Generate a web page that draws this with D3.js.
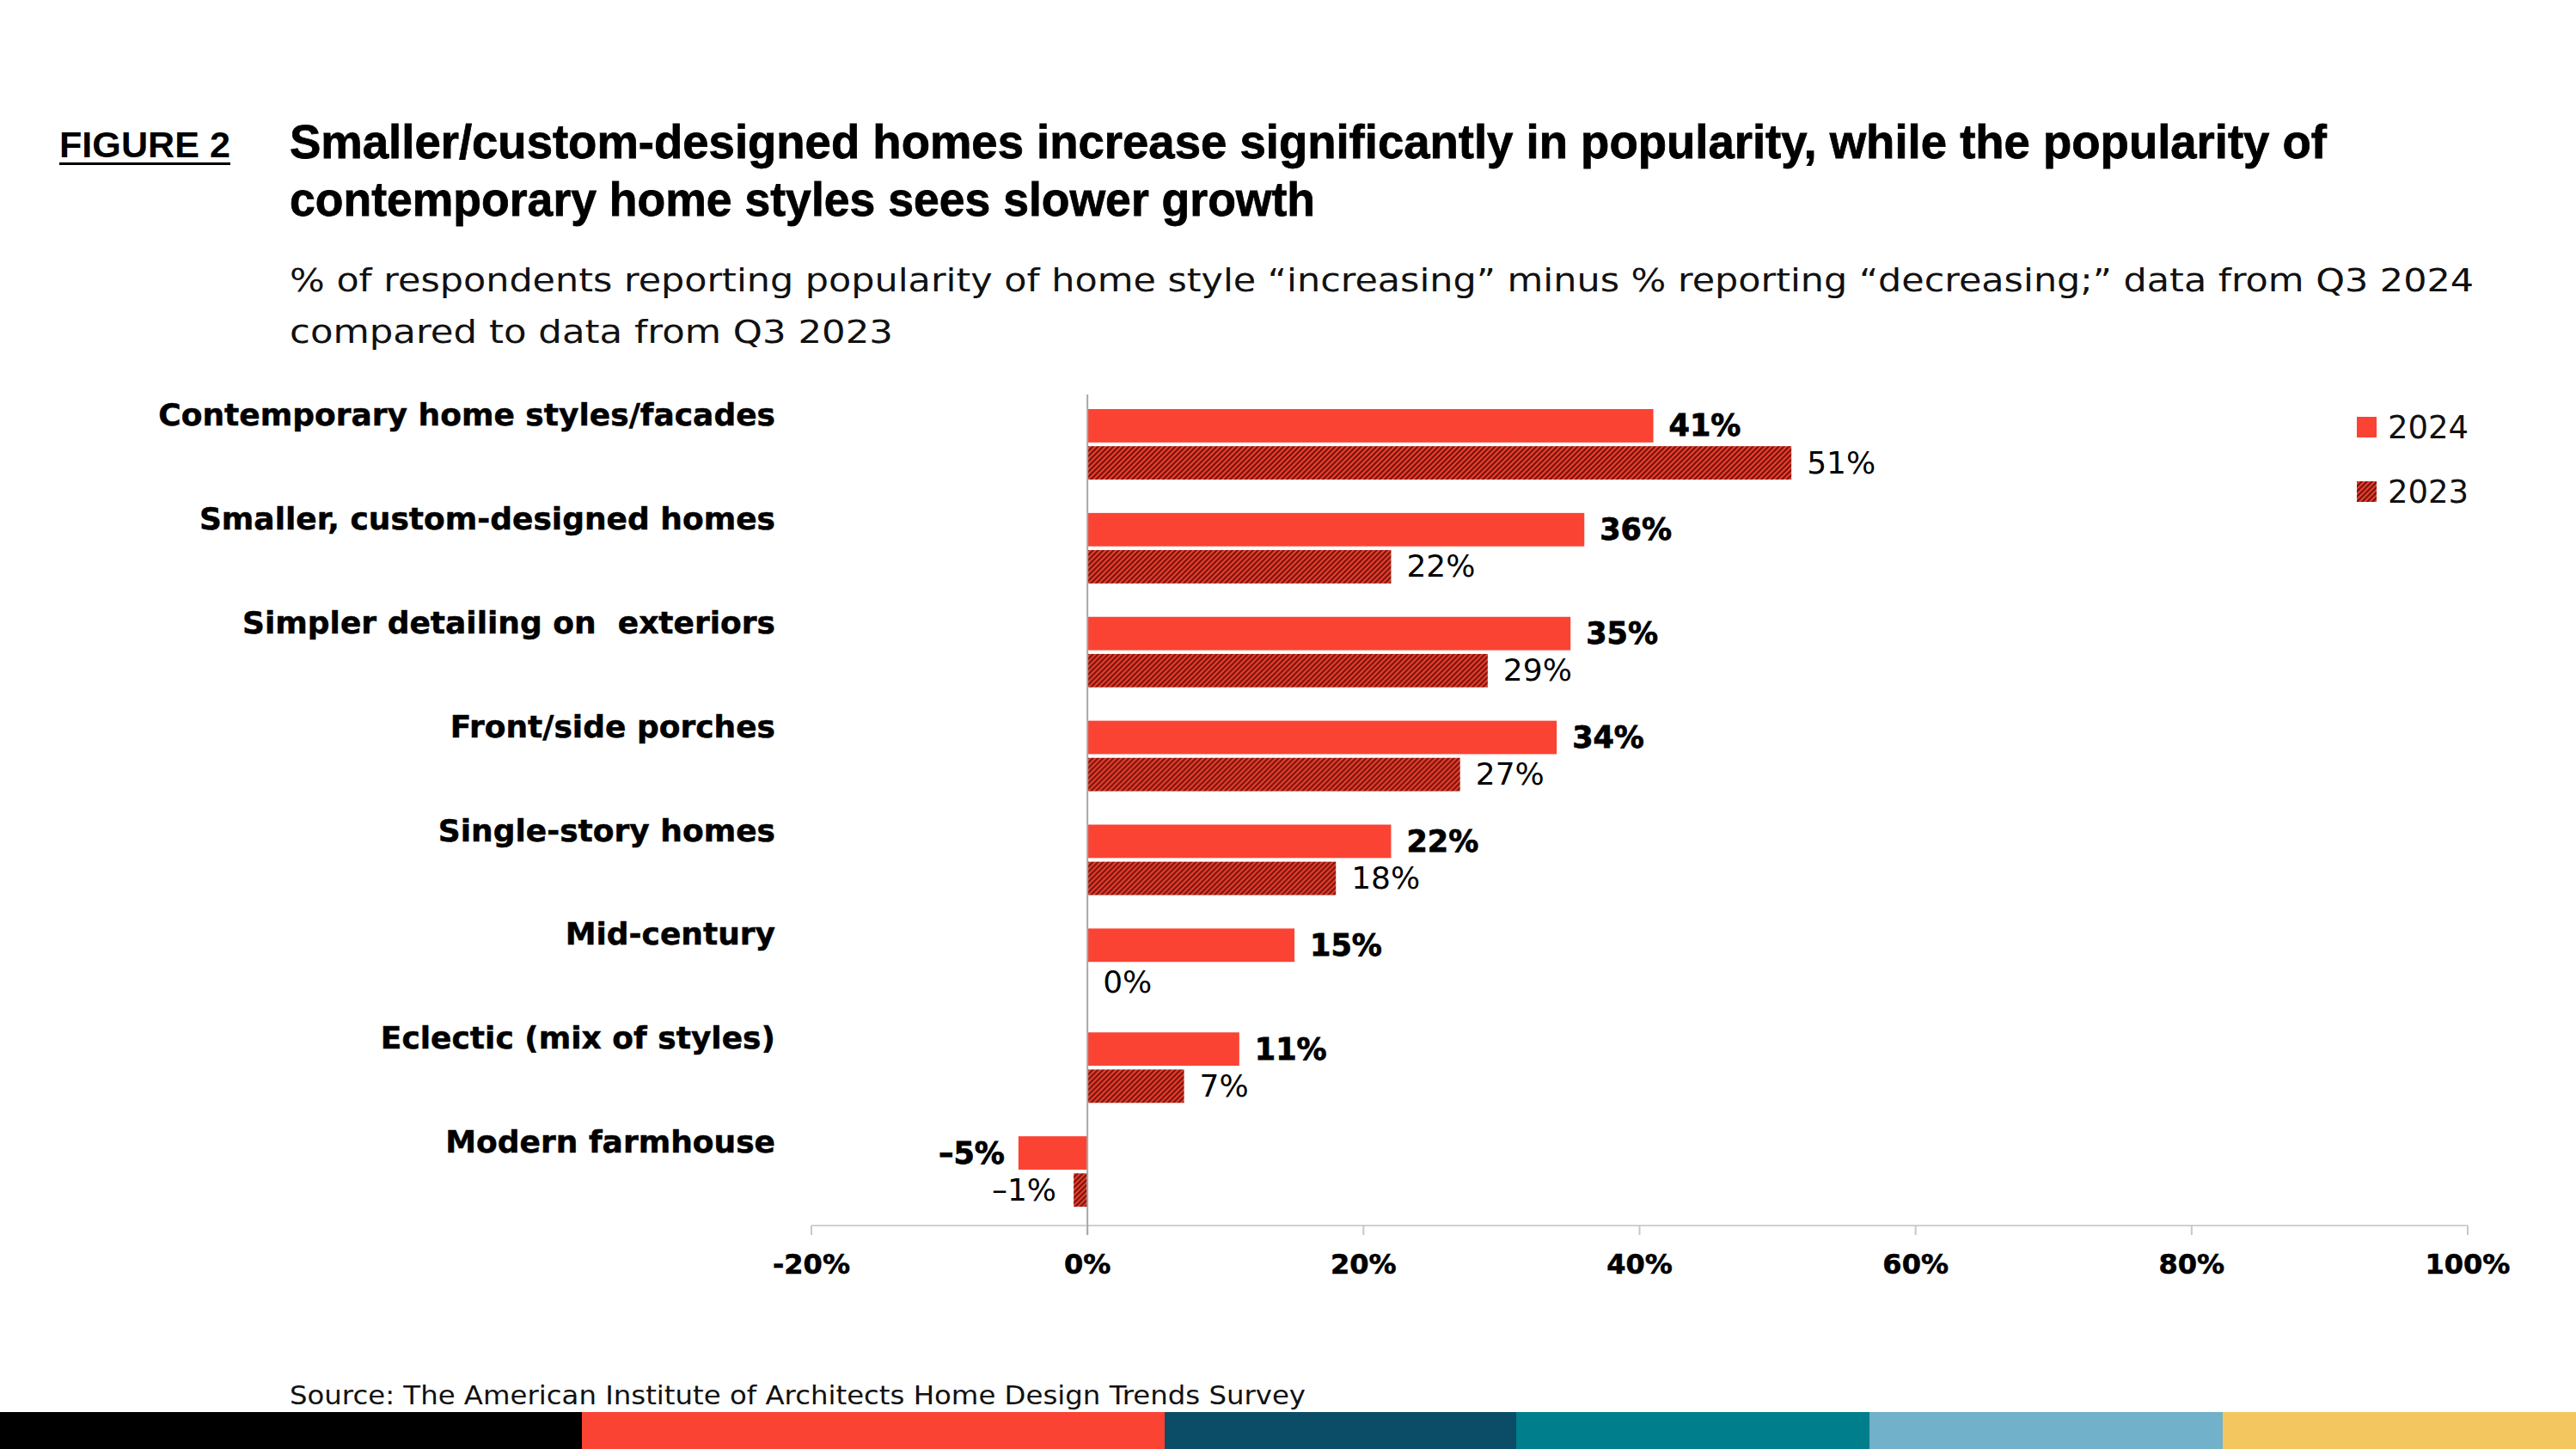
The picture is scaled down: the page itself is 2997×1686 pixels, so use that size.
<!DOCTYPE html>
<html><head><meta charset="utf-8">
<script src="https://cdn.jsdelivr.net/npm/d3@7"></script>
<style>body{margin:0;background:#fff}svg{display:block}</style>
</head><body><svg id="c" width="2997" height="1686"></svg>
<script>
// ---- data ----
const categories = [
  "Contemporary home styles/facades",
  "Smaller, custom-designed homes",
  "Simpler detailing on  exteriors",
  "Front/side porches",
  "Single-story homes",
  "Mid-century",
  "Eclectic (mix of styles)",
  "Modern farmhouse"
];
const values2024 = [41, 36, 35, 34, 22, 15, 11, -5];
const values2023 = [51, 22, 29, 27, 18, 0, 7, -1];
const seriesNames = ["2024", "2023"];
const tickValues = [-20, 0, 20, 40, 60, 80, 100];
const tickLabels = ["-20%", "0%", "20%", "40%", "60%", "80%", "100%"];
const figureLabel = "FIGURE 2";
const titleLines = [
  "Smaller/custom-designed homes increase significantly in popularity, while the popularity of",
  "contemporary home styles sees slower growth"
];
const subtitleLines = [
  "% of respondents reporting popularity of home style \u201cincreasing\u201d minus % reporting \u201cdecreasing;\u201d data from Q3 2024",
  "compared to data from Q3 2023"
];
const sourceText = "Source: The American Institute of Architects Home Design Trends Survey";
const stripColors = ["#000000", "#fb4333", "#0b4c66", "#007e8c", "#71b1c9", "#f4c660"];

// ---- drawing ----
const RED = "#fb4333", DARK = "#7e170e";
const svg = d3.select("#c");
const sans = "'Liberation Sans', Arial, sans-serif";
const dv = "'DejaVu Sans', sans-serif";

const defs = svg.append("defs");
const pat = defs.append("pattern").attr("id", "hatch").attr("patternUnits", "userSpaceOnUse")
  .attr("width", 6).attr("height", 6);
pat.append("rect").attr("width", 6).attr("height", 6).attr("fill", RED);
pat.append("path").attr("d", "M-1.5,1.5 l3,-3 M0,6 l6,-6 M4.5,7.5 l3,-3")
  .attr("stroke", DARK).attr("stroke-width", 2.6);

const x = d3.scaleLinear().domain([-20, 100]).range([944, 2871]);
const y = d3.scaleBand().domain(categories).range([459, 1426]);
const ys = d3.scaleBand().domain(seriesNames).range([17, 99]).paddingInner(0.1);

// header
svg.append("text").attr("x", 69).attr("y", 183).text(figureLabel)
  .attr("font-family", sans).attr("font-weight", 700).attr("font-size", 42)
  .attr("textLength", 199).attr("lengthAdjust", "spacingAndGlyphs");
svg.append("rect").attr("x", 69).attr("y", 189).attr("width", 199).attr("height", 3).attr("fill", "#000");

const titleW = [2370, 1193];
titleLines.forEach((t, i) => {
  svg.append("text").attr("x", 337).attr("y", 184 + i * 67).text(t)
    .attr("font-family", sans).attr("font-weight", 700).attr("font-size", 55)
    .attr("stroke", "#000").attr("stroke-width", 0.8)
    .attr("textLength", titleW[i]).attr("lengthAdjust", "spacingAndGlyphs");
});
const subW = [2541, 702];
subtitleLines.forEach((t, i) => {
  svg.append("text").attr("x", 337).attr("y", 339 + i * 60).text(t)
    .attr("font-family", dv).attr("font-size", 38).attr("fill", "#111")
    .attr("textLength", subW[i]).attr("lengthAdjust", "spacingAndGlyphs");
});

// axis
const axisY = 1426;
svg.append("line").attr("x1", x(-20)).attr("x2", x(100)).attr("y1", axisY).attr("y2", axisY)
  .attr("stroke", "#d0d0d0").attr("stroke-width", 2);
svg.selectAll(".tick").data(tickValues).enter().append("line")
  .attr("x1", d => x(d)).attr("x2", d => x(d)).attr("y1", axisY).attr("y2", axisY + 11)
  .attr("stroke", "#c8c8c8").attr("stroke-width", 2);
svg.selectAll(".tl").data(tickValues).enter().append("text")
  .attr("x", d => x(d)).attr("y", 1482).attr("text-anchor", "middle")
  .text((d, i) => tickLabels[i])
  .attr("font-family", dv).attr("font-weight", 700).attr("font-size", 32)
  .attr("stroke", "#000").attr("stroke-width", 0.6);

// bars
const groups = svg.selectAll(".g").data(categories).enter().append("g")
  .attr("transform", d => `translate(0,${y(d)})`);
const bw = ys.bandwidth();
groups.append("rect")
  .attr("x", (d, i) => x(Math.min(0, values2024[i])))
  .attr("width", (d, i) => Math.abs(x(values2024[i]) - x(0)))
  .attr("y", ys("2024")).attr("height", bw).attr("fill", RED);
groups.append("rect")
  .attr("x", (d, i) => x(Math.min(0, values2023[i])))
  .attr("width", (d, i) => Math.abs(x(values2023[i]) - x(0)))
  .attr("y", ys("2023")).attr("height", bw).attr("fill", "url(#hatch)");

// zero line
svg.append("line").attr("x1", x(0)).attr("x2", x(0)).attr("y1", 459).attr("y2", axisY + 11)
  .attr("stroke", "#a8a8a8").attr("stroke-width", 2);

// value labels
const fmt = v => (v < 0 ? "\u2013" + Math.abs(v) : v) + "%";
groups.append("text")
  .attr("x", (d, i) => values2024[i] < 0 ? x(values2024[i]) - 16 : x(values2024[i]) + 18)
  .attr("text-anchor", (d, i) => values2024[i] < 0 ? "end" : "start")
  .attr("y", ys("2024") + bw / 2 + 12)
  .text((d, i) => fmt(values2024[i]))
  .attr("font-family", dv).attr("font-weight", 700).attr("font-size", 35)
  .attr("stroke", "#000").attr("stroke-width", 0.8);
groups.append("text")
  .attr("x", (d, i) => values2023[i] < 0 ? x(values2023[i]) - 20 : x(values2023[i]) + 18)
  .attr("text-anchor", (d, i) => values2023[i] < 0 ? "end" : "start")
  .attr("y", ys("2023") + bw / 2 + 12)
  .text((d, i) => fmt(values2023[i]))
  .attr("font-family", dv).attr("font-weight", 400).attr("font-size", 36).attr("fill", "#000");

// category labels
groups.append("text").attr("x", 902).attr("y", 36).attr("text-anchor", "end")
  .attr("xml:space", "preserve").style("white-space", "pre")
  .text(d => d)
  .attr("font-family", dv).attr("font-weight", 700).attr("font-size", 36)
  .attr("stroke", "#000").attr("stroke-width", 0.5);

// legend
const leg = svg.selectAll(".leg").data(seriesNames).enter().append("g")
  .attr("transform", (d, i) => `translate(2742,${485 + i * 75})`);
leg.append("rect").attr("width", 23).attr("height", 24)
  .attr("fill", (d, i) => i === 0 ? RED : "url(#hatch)");
leg.append("text").attr("x", 36).attr("y", 12).attr("dy", "0.36em").text(d => d)
  .attr("font-family", dv).attr("font-size", 37).attr("fill", "#111");

// source
svg.append("text").attr("x", 337).attr("y", 1634).text(sourceText)
  .attr("font-family", dv).attr("font-size", 30).attr("fill", "#111")
  .attr("textLength", 1182).attr("lengthAdjust", "spacingAndGlyphs");

// bottom strip
const stripEdges = [0, 677, 1355, 1764, 2175, 2586, 2997];
svg.selectAll(".strip").data(stripColors).enter().append("rect")
  .attr("x", (d, i) => stripEdges[i]).attr("width", (d, i) => stripEdges[i + 1] - stripEdges[i])
  .attr("y", 1643).attr("height", 43).attr("fill", d => d);
</script></body></html>
